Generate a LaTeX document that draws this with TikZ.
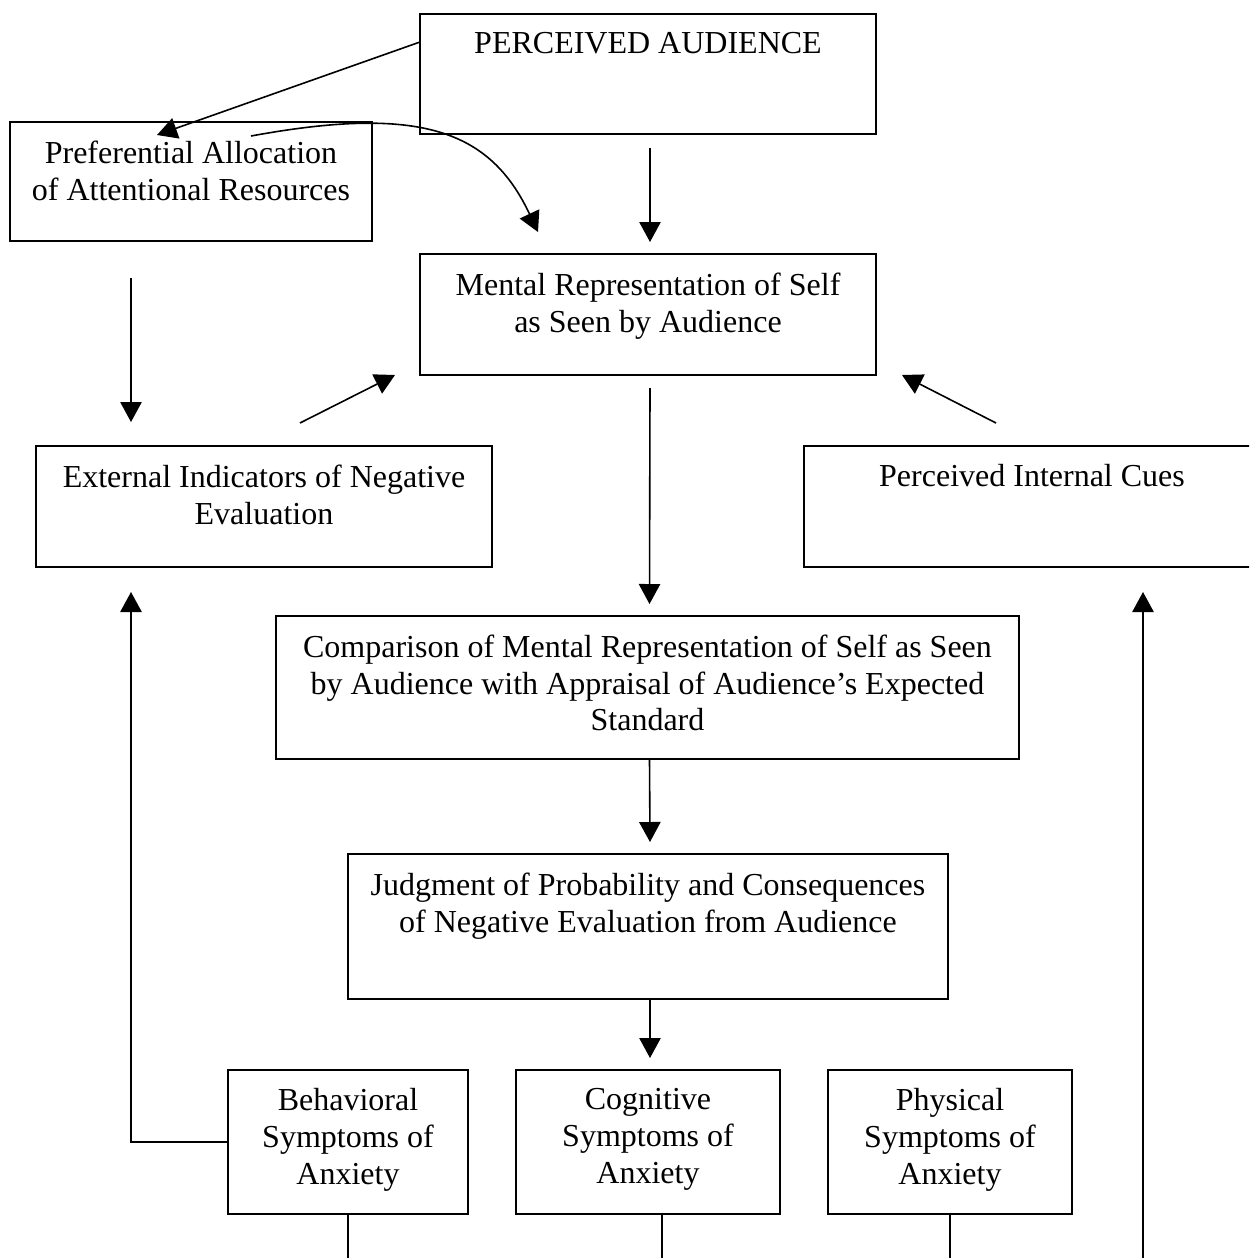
\documentclass[tikz,border=0pt]{standalone}
\usepackage{fontspec}
\setmainfont{Liberation Serif}
\usepackage{tikz}
\usetikzlibrary{positioning,calc,arrows.meta}

\tikzset{
  box/.style 2 args={draw, line width=0.6pt, anchor=north west, inner sep=0pt, outer sep=0pt,
    minimum width=#1*0.375pt, minimum height=#2*0.375pt},
  txt/.style={anchor=north, align=center, inner sep=0pt, yshift=-6.8pt},
  arr/.style={line width=0.6pt, -{Triangle[length=7.5pt,width=8pt]}},
  line/.style={line width=0.6pt}
}

\begin{document}
\begin{tikzpicture}[x=0.375pt, y=-0.375pt, font=\fontsize{12}{13.8}\selectfont]

\useasboundingbox (0,0) rectangle (1249,1258);
\clip (0,0) rectangle (1249,1258);

% boxes
\node[box={456}{120}, label={[txt]north:PERCEIVED AUDIENCE}] (pa) at (420,14) {};
\node[box={362}{119}, label={[txt]north:{Preferential Allocation\\of Attentional Resources}}] (pref) at (10,122) {};
\node[box={456}{121}, label={[txt]north:{Mental Representation of Self\\as Seen by Audience}}] (ment) at (420,254) {};
\node[box={456}{121}, label={[txt]north:{External Indicators of Negative\\Evaluation}}] (ext) at (36,446) {};
\node[box={456}{121}, label={[txt]north:{Perceived Internal Cues}}] (int) at (804,446) {};
\node[box={743}{143}, label={[txt]north:{Comparison of Mental Representation of Self as Seen\\by Audience with Appraisal of Audience’s Expected\\Standard}}] (comp) at (276,616) {};
\node[box={600}{145}, label={[txt]north:{Judgment of Probability and Consequences\\of Negative Evaluation from Audience}}] (judg) at (348,854) {};
\node[box={240}{144}, label={[txt]north:{Behavioral\\Symptoms of\\Anxiety}}] (beh) at (228,1070) {};
\node[box={264}{144}, label={[txt]north:{Cognitive\\Symptoms of\\Anxiety}}] (cog) at (516,1070) {};
\node[box={244}{144}, label={[txt]north:{Physical\\Symptoms of\\Anxiety}}] (phys) at (828,1070) {};

\coordinate (loopend) at (1143,1275);

% connectors
\draw[arr] ($(pa.north west)+(0,28)$) -- ($(pref.north west)+(147,13)$);
\draw[arr] ($(pref.north west)+(241,14)$) .. controls (420,105) and (490,130) .. ($(ment.north west)+(118,-22)$);
\draw[arr] ($(pa.south)+(2,14)$) -- ($(ment.north)+(2,-12)$);
\draw[arr] ($(pref.south west)+(121,37)$) -- ($(ext.north west)+(95,-24)$);
\draw[arr] ($(ext.north west)+(264,-23)$) -- ($(ment.south west)+(-25,0)$);
\draw[arr] ($(int.north west)+(192,-23)$) -- ($(ment.south east)+(26,0)$);
\draw[arr] ($(ment.south)+(2,13)$) -- ($(comp.north)+(2,-12)$);
\draw[arr] ($(comp.south)+(2,0)$) -- ($(judg.north)+(2,-12)$);
\draw[arr] ($(judg.south)+(2,0)$) -- ($(cog.north)+(2,-12)$);
\draw[arr] (beh.west) -| ($(ext.south west)+(95,25)$);

% lines leaving the bottom
\draw[line] (beh.south) -- ++(0,70);
\draw[line] ($(cog.south)+(14,0)$) -- ++(0,70);
\draw[line] (phys.south) -- ++(0,70);
\draw[arr] (loopend) -- ($(int.south west)+(339,25)$);

\end{tikzpicture}
\end{document}
